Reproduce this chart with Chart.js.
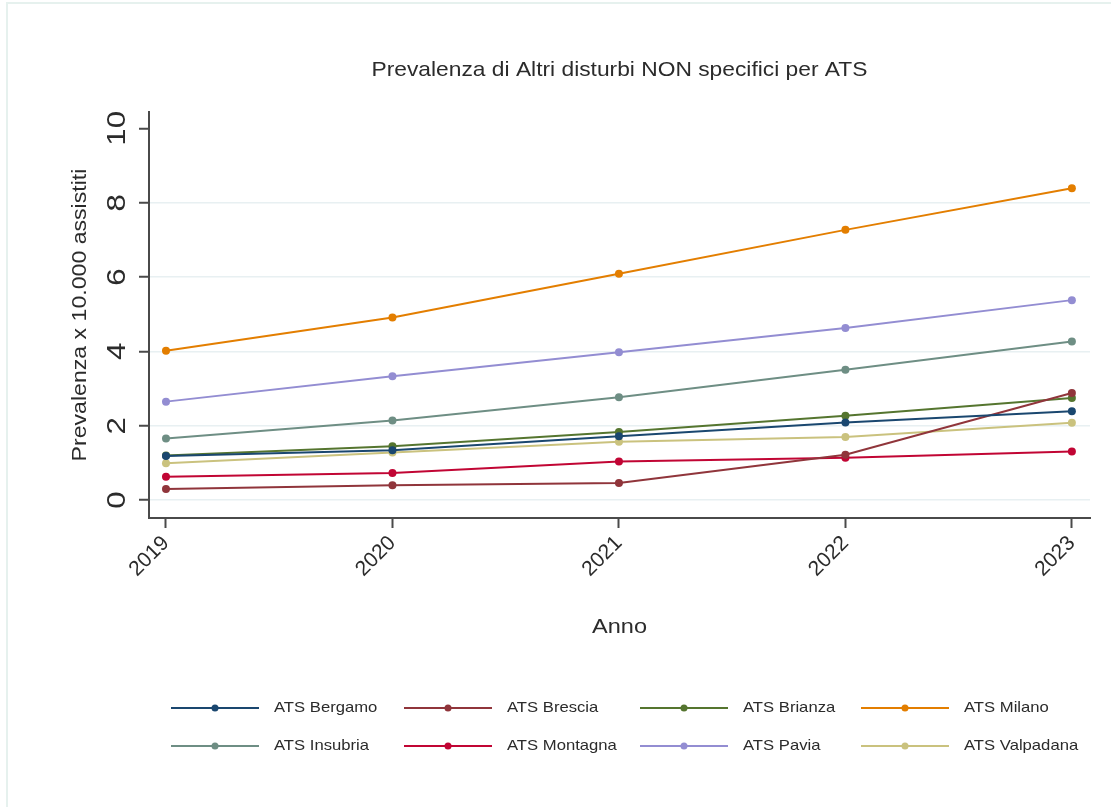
<!DOCTYPE html>
<html>
<head>
<meta charset="utf-8">
<script src="https://cdn.jsdelivr.net/npm/chart.js@4"></script>
<style>
  html, body { margin: 0; padding: 0; background: #fff; }
</style>
</head>
<body>
<canvas id="chart" width="1111" height="807"></canvas>
<script>
const years = [2019, 2020, 2021, 2022, 2023];
const yTicks = [0, 2, 4, 6, 8, 10];
const atsNames = ['ATS Bergamo', 'ATS Brescia', 'ATS Brianza', 'ATS Milano',
  'ATS Insubria', 'ATS Montagna', 'ATS Pavia', 'ATS Valpadana'];
const bergamo = [1.19, 1.34, 1.72, 2.09, 2.39];
const brescia = [0.30, 0.40, 0.46, 1.22, 2.88];
const brianza = [1.20, 1.45, 1.83, 2.27, 2.75];
const milano = [4.02, 4.91, 6.09, 7.27, 8.39];
const insubria = [1.66, 2.14, 2.77, 3.51, 4.27];
const montagna = [0.63, 0.73, 1.04, 1.14, 1.31];
const pavia = [2.65, 3.33, 3.98, 4.63, 5.38];
const valpadana = [0.99, 1.28, 1.57, 1.70, 2.08];
const seriesValues = [bergamo, brescia, brianza, milano, insubria, montagna, pavia, valpadana];
const colors = ['#1a476f', '#90353b', '#55752f', '#e37e00', '#6e8e84', '#c10534', '#938dd2', '#cac27e'];

const FONT = '"Liberation Sans", Arial, sans-serif';
const TEXT = '#2b2b2b';
const legendCols = [171, 404, 640, 861];

const datasets = atsNames.map((label, i) => ({
  label,
  data: years.map((x, j) => ({ x, y: seriesValues[i][j] })),
  borderColor: colors[i],
  backgroundColor: colors[i],
  borderWidth: 2,
  pointRadius: 4,
  pointBorderWidth: 0,
  pointBackgroundColor: colors[i],
  tension: 0,
}));

// the original's text runs a bit wider than Liberation Sans, so stretch it along its direction
const wideText = (ctx, text, x, y, sx, angle = 0) => {
  ctx.save();
  ctx.translate(x, y);
  if (angle) ctx.rotate(angle);
  ctx.scale(sx, 1);
  ctx.fillText(text, 0, 0);
  ctx.restore();
};

// titles, rotated y labels, frame and the grid-style legend
const decor = {
  id: 'decor',
  afterDraw(chart) {
    const { ctx, chartArea } = chart;
    const ys = chart.scales.y;
    const midX = (chartArea.left + chartArea.right) / 2;
    ctx.save();
    ctx.strokeStyle = '#e6f1ee';
    ctx.lineWidth = 2;
    ctx.beginPath();
    ctx.moveTo(7, 807);
    ctx.lineTo(7, 3);
    ctx.lineTo(1111, 3);
    ctx.stroke();

    ctx.fillStyle = TEXT;
    ctx.textAlign = 'center';
    ctx.textBaseline = 'middle';
    ctx.font = `21px ${FONT}`;
    wideText(ctx, 'Prevalenza di Altri disturbi NON specifici per ATS', midX, 70, 1.085);
    wideText(ctx, 'Anno', midX, 627, 1.12);
    wideText(ctx, 'Prevalenza x 10.000 assistiti', 80, (chartArea.top + chartArea.bottom) / 2, 1.1, -Math.PI / 2);

    ctx.font = `26px ${FONT}`;
    yTicks.forEach(v => wideText(ctx, String(v), 118, ys.getPixelForValue(v), 1.2, -Math.PI / 2));

    ctx.font = `15px ${FONT}`;
    ctx.textAlign = 'left';
    chart.data.datasets.forEach((ds, i) => {
      const x0 = legendCols[i % 4];
      const y = 708 + Math.floor(i / 4) * 38;
      ctx.strokeStyle = ds.borderColor;
      ctx.lineWidth = 2;
      ctx.beginPath();
      ctx.moveTo(x0, y);
      ctx.lineTo(x0 + 88, y);
      ctx.stroke();
      ctx.fillStyle = ds.borderColor;
      ctx.beginPath();
      ctx.arc(x0 + 44, y, 3.5, 0, Math.PI * 2);
      ctx.fill();
      ctx.fillStyle = TEXT;
      wideText(ctx, ds.label, x0 + 103, y, 1.11);
    });
    ctx.restore();
  },
};

new Chart(document.getElementById('chart'), {
  type: 'line',
  data: { datasets },
  options: {
    responsive: false,
    devicePixelRatio: 1,
    animation: false,
    layout: { padding: { left: 0, top: 112, right: 21, bottom: 0 } },
    plugins: { legend: { display: false }, tooltip: { enabled: false } },
    scales: {
      x: {
        type: 'linear',
        min: 2018.925,
        max: 2023.08,
        afterBuildTicks: s => { s.ticks = years.map(value => ({ value })); },
        afterFit: s => { s.height = 807 - 518; },
        border: { color: '#4a4a4a', width: 2 },
        grid: { drawOnChartArea: false, tickLength: 10, tickColor: '#4a4a4a', tickWidth: 2 },
        ticks: {
          minRotation: 45,
          maxRotation: 45,
          padding: 3,
          color: TEXT,
          font: { family: FONT, size: 21 },
          callback: v => String(v),
        },
      },
      y: {
        type: 'linear',
        min: -0.48,
        max: 10.44,
        afterBuildTicks: s => { s.ticks = yTicks.map(value => ({ value })); },
        afterFit: s => { s.width = 149; },
        border: { color: '#4a4a4a', width: 2 },
        grid: {
          color: c => (c.tick && c.tick.value === 10 ? 'rgba(0,0,0,0)' : '#e8f0f2'),
          lineWidth: 1.5,
          tickLength: 10,
          tickColor: '#4a4a4a',
          tickWidth: 2,
        },
        ticks: { display: false },
      },
    },
  },
  plugins: [decor],
});
</script>
</body>
</html>
